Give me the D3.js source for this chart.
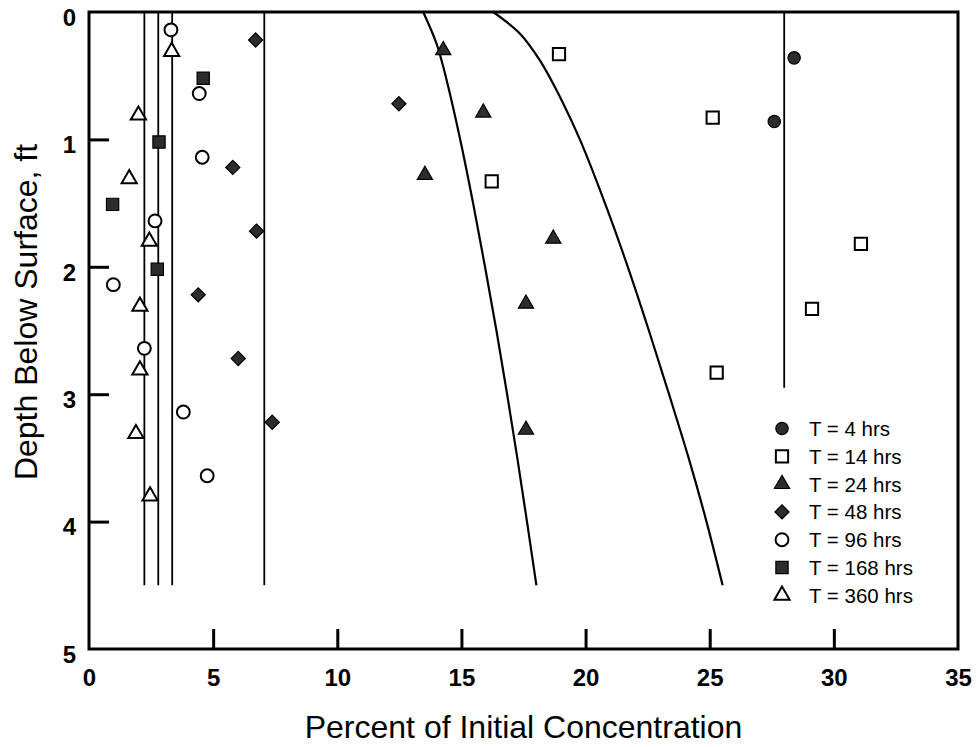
<!DOCTYPE html>
<html>
<head>
<meta charset="utf-8">
<script src="https://cdn.jsdelivr.net/npm/d3@7/dist/d3.min.js"></script>
<style>
  html, body { margin: 0; padding: 0; background: #fff; }
  svg { display: block; }
</style>
</head>
<body>
<svg id="chart" width="980" height="747"></svg>
<script>
// ---------------- DATA ----------------
const xTicks = [0, 5, 10, 15, 20, 25, 30, 35];
const yTicks = [0, 1, 2, 3, 4, 5];

const legendLabels = ["T = 4 hrs", "T = 14 hrs", "T = 24 hrs", "T = 48 hrs", "T = 96 hrs", "T = 168 hrs", "T = 360 hrs"];

// percent of initial concentration / depth (ft)
const t4Pct   = [28.4, 27.6];
const t4Depth = [0.36, 0.86];

const t14Pct   = [18.93, 25.12, 16.22, 31.09, 29.12, 25.28];
const t14Depth = [0.33, 0.83, 1.33, 1.82, 2.33, 2.83];

const t24Pct   = [14.27, 15.88, 13.53, 18.70, 17.60, 17.60];
const t24Depth = [0.30, 0.79, 1.28, 1.78, 2.29, 3.28];

const t48Pct   = [6.71, 12.48, 5.79, 6.75, 4.40, 6.01, 7.38];
const t48Depth = [0.22, 0.72, 1.22, 1.72, 2.22, 2.72, 3.22];

const t96Pct   = [3.30, 4.44, 4.56, 2.66, 0.98, 2.23, 3.80, 4.76];
const t96Depth = [0.14, 0.64, 1.14, 1.64, 2.14, 2.64, 3.14, 3.64];

const t168Pct   = [4.60, 2.82, 0.95, 2.75];
const t168Depth = [0.52, 1.02, 1.51, 2.02];

const t360Pct   = [3.33, 1.99, 1.62, 2.43, 2.05, 2.05, 1.89, 2.46];
const t360Depth = [0.31, 0.81, 1.31, 1.80, 2.31, 2.81, 3.31, 3.80];

// model profiles (vertical lines: percent, bottom depth)
const vLinePct    = [2.23, 2.79, 3.35, 7.06, 28.0];
const vLineBottom = [4.5, 4.5, 4.5, 4.5, 2.95];

// curved model profiles
const curveAPct   = [13.46, 14.00, 14.36, 14.95, 15.47, 15.95, 16.41, 16.84, 17.25, 17.64, 18.02];
const curveADepth = [0.00, 0.25, 0.50, 1.00, 1.50, 2.00, 2.50, 3.00, 3.50, 4.00, 4.50];
const curveBPct   = [16.28, 17.36, 18.16, 19.03, 19.77, 20.78, 21.70, 22.55, 23.36, 24.15, 24.87, 25.52];
const curveBDepth = [0.00, 0.17, 0.38, 0.69, 1.00, 1.50, 2.00, 2.50, 3.00, 3.50, 4.00, 4.50];

// ---------------- CHART ----------------
const W = 980, H = 747;
const m = { left: 89, top: 12, right: 980 - 958, bottom: 747 - 649 };
const svg = d3.select("#chart");
const x = d3.scaleLinear().domain([0, 35]).range([m.left, W - m.right]);
const y = d3.scaleLinear().domain([0, 5]).range([m.top, H - m.bottom]);
const FONT = "Liberation Sans, Arial, Helvetica, sans-serif";

const zip = (a, b) => a.map((v, i) => [v, b[i]]);

// vertical model lines
svg.append("g").selectAll("line").data(zip(vLinePct, vLineBottom)).join("line")
  .attr("x1", d => x(d[0])).attr("x2", d => x(d[0]))
  .attr("y1", y(0)).attr("y2", d => y(d[1]))
  .attr("stroke", "#000").attr("stroke-width", 1.8);

// curves
const line = d3.line().x(d => x(d[0])).y(d => y(d[1])).curve(d3.curveCatmullRom.alpha(0.5));
[zip(curveAPct, curveADepth), zip(curveBPct, curveBDepth)].forEach(c => {
  svg.append("path").attr("d", line(c)).attr("fill", "none")
    .attr("stroke", "#000").attr("stroke-width", 2.2);
});

// symbols
const filled = "#2c2c2c";
const styles = [
  { type: d3.symbolCircle,   size: 120, fill: filled, rot: 0 },
  { type: d3.symbolSquare,   size: 150, fill: "#fff", rot: 0 },
  { type: d3.symbolTriangle, size: 100, fill: filled, rot: 0 },
  { type: d3.symbolSquare,   size: 100, fill: filled, rot: 45 },
  { type: d3.symbolCircle,   size: 130, fill: "#fff", rot: 0 },
  { type: d3.symbolSquare,   size: 150, fill: filled, rot: 0 },
  { type: d3.symbolTriangle, size: 100, fill: "#fff", rot: 0 }
];
const series = [
  zip(t4Pct, t4Depth), zip(t14Pct, t14Depth), zip(t24Pct, t24Depth),
  zip(t48Pct, t48Depth), zip(t96Pct, t96Depth), zip(t168Pct, t168Depth),
  zip(t360Pct, t360Depth)
];

function drawSym(g, st, cx, cy) {
  g.append("path")
    .attr("d", d3.symbol().type(st.type).size(st.size)())
    .attr("transform", `translate(${cx},${cy}) rotate(${st.rot})`)
    .attr("fill", st.fill)
    .attr("stroke", "#000")
    .attr("stroke-width", st.fill === "#fff" ? 2 : 1.2);
}

const gPts = svg.append("g");
series.forEach((s, i) => {
  s.forEach(d => drawSym(gPts, styles[i], x(d[0]), y(d[1])));
});

// frame
svg.append("rect")
  .attr("x", x(0)).attr("y", y(0))
  .attr("width", x(35) - x(0)).attr("height", y(5) - y(0))
  .attr("fill", "none").attr("stroke", "#000").attr("stroke-width", 3);

// x axis
const xAxis = d3.axisBottom(x).tickValues(xTicks).tickSize(-20).tickPadding(0).tickFormat(d3.format("d"));
const gx = svg.append("g").attr("transform", `translate(0,${y(5)})`).call(xAxis);
gx.select(".domain").remove();
gx.selectAll(".tick line").attr("stroke", "#000").attr("stroke-width", 3);
gx.selectAll(".tick").filter(d => d === 0 || d === 35).select("line").remove();
gx.selectAll(".tick text")
  .attr("y", 37).attr("dy", 0)
  .attr("font-family", FONT)
  .attr("font-weight", "bold").attr("font-size", 24).attr("fill", "#000");

// y axis
const yAxis = d3.axisLeft(y).tickValues(yTicks).tickSize(-20).tickPadding(0).tickFormat(d3.format("d"));
const gy = svg.append("g").attr("transform", `translate(${x(0)},0)`).call(yAxis);
gy.select(".domain").remove();
gy.selectAll(".tick line").attr("stroke", "#000").attr("stroke-width", 3);
gy.selectAll(".tick").filter(d => d === 0 || d === 5).select("line").remove();
gy.selectAll(".tick text")
  .attr("x", -13).attr("dy", "0.55em")
  .attr("font-family", FONT)
  .attr("font-weight", "bold").attr("font-size", 24).attr("fill", "#000");

// axis titles
svg.append("text")
  .attr("x", (x(0) + x(35)) / 2).attr("y", 738)
  .attr("text-anchor", "middle")
  .attr("font-family", FONT)
  .attr("font-size", 32).attr("fill", "#000")
  .text("Percent of Initial Concentration");

svg.append("text")
  .attr("transform", `translate(37,312) rotate(-90)`)
  .attr("text-anchor", "middle")
  .attr("font-family", FONT)
  .attr("font-size", 32).attr("fill", "#000")
  .text("Depth Below Surface, ft");

// legend
const gL = svg.append("g");
legendLabels.forEach((lab, i) => {
  const cy = 428.5 + i * 27.8;
  drawSym(gL, styles[i], 782, cy);
  gL.append("text")
    .attr("x", 809).attr("y", cy + 7.5)
    .attr("font-family", FONT)
    .attr("font-size", 20.5).attr("fill", "#000")
    .text(lab);
});
</script>
</body>
</html>
